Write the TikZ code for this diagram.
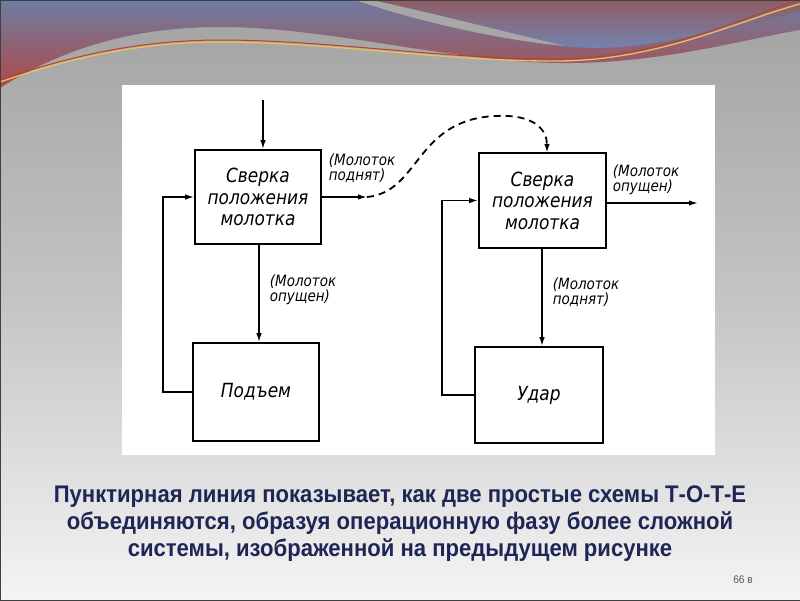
\documentclass[tikz,border=0pt]{standalone}
\usepackage{fontspec}
\setmainfont{Liberation Sans}
\newfontfamily\capfont{Liberation Sans}[FakeStretch=0.92]
\newfontfamily\drw{DejaVu Sans}[FakeStretch=0.87]
\usetikzlibrary{arrows.meta}
\definecolor{bgtop}{HTML}{A2A2A2}
\definecolor{bgmid}{HTML}{C4C4C4}
\definecolor{bgbot}{HTML}{F4F4F4}
\definecolor{wavetop}{HTML}{6E7CA2}
\definecolor{wavebot}{HTML}{AE4A48}
\definecolor{redbrown}{HTML}{8E5C64}
\definecolor{wblue}{HTML}{7088B8}
\definecolor{goldline}{HTML}{E6C062}
\definecolor{redline}{HTML}{B8402E}
\definecolor{navy}{HTML}{1E2656}
\tikzset{
  blk/.style={draw=black, line width=1.6pt, fill=white, inner sep=0pt, font=\drw\itshape\fontsize{19.5}{21.5}\selectfont, align=center},
  lbl/.style={font=\drw\itshape\fontsize{15.5}{15}\selectfont, align=left, inner sep=0pt},
  arr/.style={line width=1.6pt, -{Latex[length=9pt,width=5.5pt]}},
  dsh/.style={line width=1.8pt, dash pattern=on 7pt off 5pt, -{Latex[length=9pt,width=5.5pt]}}
}
\begin{document}
\begin{tikzpicture}[x=1pt,y=-1pt]
\useasboundingbox (0,0) rectangle (800,600);
% background
\shade[top color=bgtop, bottom color=bgbot, middle color=bgmid] (0,0) rectangle (800,600);
% top waves
\shade[top color=wavetop, bottom color=wavebot]
  (0,88) .. controls (60,50) and (130,27) .. (220,27) .. controls (330,27) and (450,62) .. (560,63)
  .. controls (660,64) and (740,40) .. (800,30) -- (800,0) -- (0,0) -- cycle;
\shade[top color=redbrown, bottom color=wblue]
  (372,0) .. controls (440,15) and (510,33) .. (565,46) .. controls (630,54) and (700,35) .. (800,12) -- (800,0) -- cycle;
\fill[bgtop!95!white] (355,0) -- (372,0) .. controls (440,15) and (510,33) .. (565,46)
  .. controls (500,40) and (420,22) .. (355,0) -- cycle;
\draw[redline, line width=1pt] (0,80) .. controls (70,56) and (140,40) .. (220,40) .. controls (330,40) and (450,60) .. (560,59) .. controls (660,58) and (740,18) .. (800,0);
\draw[goldline, line width=1.3pt] (0,82) .. controls (70,58) and (140,42) .. (220,42) .. controls (330,42) and (450,62) .. (560,61) .. controls (660,60) and (740,20) .. (800,4);
\draw[gray!50!black, line width=1pt] (0,0) rectangle (800,600);
% white panel
\fill[white] (122,85) rectangle (715,455);

% boxes
\node[blk, minimum width=126pt, minimum height=94pt] (A) at (258,197) {Сверка\\положения\\молотка};
\node[blk, minimum width=126pt, minimum height=98pt] (B) at (256,392) {Подъем};
\node[blk, minimum width=127pt, minimum height=95pt] (C) at (542.5,200.5) {Сверка\\положения\\молотка};
\node[blk, minimum width=128pt, minimum height=96pt] (D) at (539,395) {Удар};

% connectors
\coordinate (in1) at (263,100);
\draw[arr] (in1) -- (in1 |- A.north);
\coordinate (o1) at (367,197);
\draw[arr] (A.east |- o1) -- (o1);
\draw[dsh] (o1) .. controls (420,192) and (415,120) .. (495,116) .. controls (535,114) and (547,130) .. (547,153);
\coordinate (a1) at (259,244);
\draw[arr] (a1) -- (a1 |- B.north);
\coordinate (fb1) at (163,392);
\draw[arr] (B.west |- fb1) -- (fb1) |- (A.west);
\coordinate (fb2) at (442,395);
\draw[arr] (D.west |- fb2) -- (fb2) |- (C.west);
\coordinate (c1) at (542,248);
\draw[arr] (c1) -- (c1 |- D.north);
\coordinate (o2) at (698,203);
\draw[arr] (C.east |- o2) -- (o2);

% labels
\node[lbl] (l1) at (362,168) {(Молоток\\ поднят)};
\node[lbl] (l2) at (303,290) {(Молоток\\ опущен)};
\node[lbl] (l3) at (646,180) {(Молоток\\ опущен)};
\node[lbl] (l4) at (586,292) {(Молоток\\ поднят)};

% caption
\node[font=\capfont\bfseries\fontsize{24}{27}\selectfont, text=navy, align=center] (cap) at (400,524)
  {Пунктирная линия показывает, как две простые схемы Т-О-Т-Е\\
   объединяются, образуя операционную фазу более сложной\\
   системы, изображенной на предыдущем рисунке};
\node[font=\capfont\fontsize{11}{12}\selectfont, text=gray!70!black] (pg) at (743,580) {66 в};
\end{tikzpicture}
\end{document}
